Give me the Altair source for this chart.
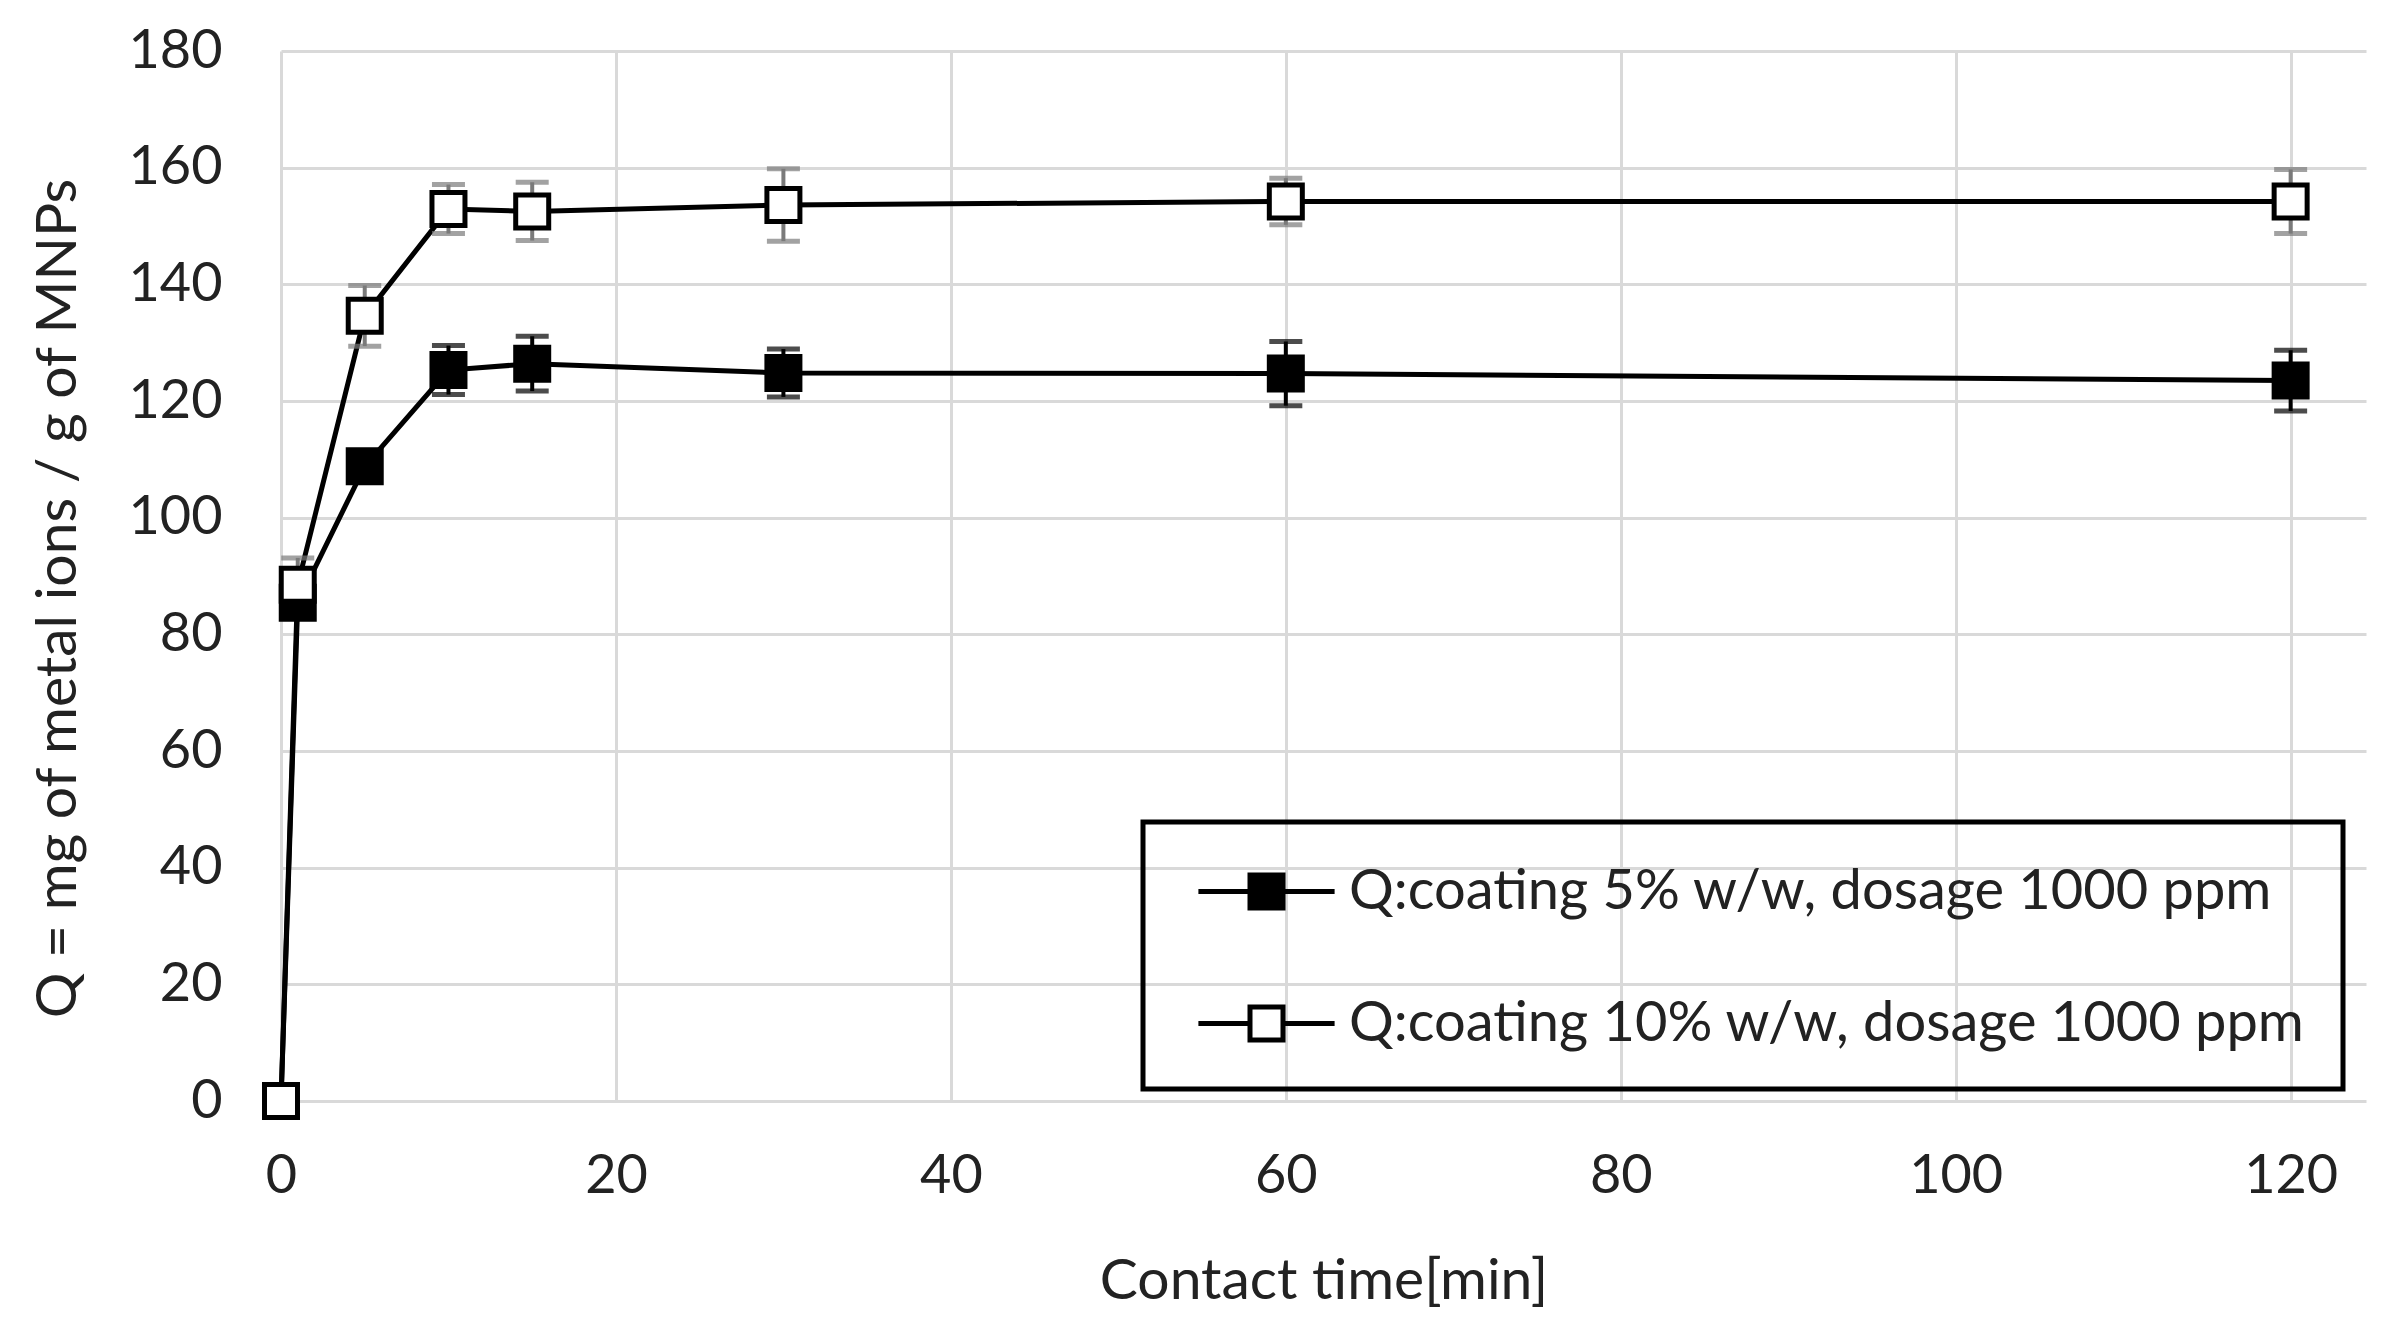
import altair as alt
import pandas as pd

# ---- data ----
times = [0, 1, 5, 10, 15, 30, 60, 120]
q_5 = [0, 85.4, 108.8, 125.3, 126.4, 124.8, 124.7, 123.5]
err_5 = [0, 2.0, 1.5, 4.2, 4.7, 4.1, 5.5, 5.2]
q_10 = [0, 88.5, 134.6, 152.9, 152.5, 153.6, 154.2, 154.2]
err_10 = [0, 4.6, 5.2, 4.2, 5.0, 6.2, 4.0, 5.5]
series_names = ["Q:coating 5% w/w, dosage 1000 ppm",
                "Q:coating 10% w/w, dosage 1000 ppm"]
x_ticks = [0, 20, 40, 60, 80, 100, 120]
y_ticks = [0, 20, 40, 60, 80, 100, 120, 140, 160, 180]

rows = []
for i, (name, qs, es) in enumerate([(series_names[0], q_5, err_5),
                                     (series_names[1], q_10, err_10)]):
    for t, q, e in zip(times, qs, es):
        rows.append({"t": t, "q": q, "lo": q - e, "hi": q + e, "err": e,
                     "series": name, "ebgroup": "g%d" % i})
df = pd.DataFrame(rows)

FONT = "Lato"
x_scale = alt.Scale(domain=[0, 124.5], nice=False, zero=True)
y_scale = alt.Scale(domain=[0, 180], nice=False)

base = alt.Chart(df)

x_enc = alt.X("t:Q", scale=x_scale,
              axis=alt.Axis(values=x_ticks, title="Contact time[min]", grid=True,
                            gridColor="#d9d9d9", gridWidth=3, domain=False, ticks=False,
                            labelFlush=False,
                            labelFontSize=54, labelPadding=48, labelColor="#222222",
                            labelFont=FONT, titleFont=FONT, titleFontSize=57,
                            titleFontWeight="normal", titleColor="#222222",
                            titleY=152, titleBaseline="top"))
y_enc = alt.Y("q:Q", scale=y_scale,
              axis=alt.Axis(values=y_ticks, title="Q = mg of metal ions / g of MNPs",
                            grid=True, gridColor="#d9d9d9", gridWidth=3, domain=False,
                            ticks=False, labelFontSize=54, labelPadding=59,
                            labelColor="#222222", labelFont=FONT, titleFont=FONT,
                            titleFontSize=57, titleFontWeight="normal",
                            titleColor="#222222", titleX=-223, titleY=547,
                            titleBaseline="middle"))

lines = base.mark_line(color="black", strokeWidth=5).encode(
    x=x_enc, y=y_enc, detail="series:N")

err_color = alt.Stroke("ebgroup:N",
                       scale=alt.Scale(domain=["g0", "g1"], range=["black", "#7a7a7a"]),
                       legend=None)
eb = base.transform_filter("datum.err > 0")

bars = eb.mark_rule(strokeWidth=4).encode(
    x="t:Q", y="lo:Q", y2="hi:Q", stroke=err_color)
caps_lo = eb.mark_tick(orient="horizontal", size=33, thickness=5, filled=False,
                       strokeWidth=0).encode(
    x="t:Q", y="lo:Q",
    fill=alt.Fill("ebgroup:N",
                  scale=alt.Scale(domain=["g0", "g1"], range=["black", "#7a7a7a"]),
                  legend=None))
caps_hi = eb.mark_tick(orient="horizontal", size=33, thickness=5, filled=False,
                       strokeWidth=0).encode(
    x="t:Q", y="hi:Q",
    fill=alt.Fill("ebgroup:N",
                  scale=alt.Scale(domain=["g0", "g1"], range=["black", "#7a7a7a"]),
                  legend=None))

legend_path = "M-2.27,0H-0.55M0.55,0H2.27M-0.55,-0.55H0.55V0.55H-0.55Z"

points = base.mark_square(size=1089, stroke="black", strokeWidth=5, opacity=1).encode(
    x="t:Q", y="q:Q",
    shape=alt.Shape("series:N",
                    scale=alt.Scale(domain=series_names, range=[legend_path, legend_path]),
                    legend=None),
    color=alt.Color("series:N",
                    scale=alt.Scale(domain=series_names, range=["black", "white"]),
                    legend=alt.Legend(title=None, orient="none", legendX=862, legendY=771,
                                      symbolType=legend_path, symbolSize=3600,
                                      symbolStrokeColor="black", symbolStrokeWidth=5,
                                      symbolOffset=54, labelOffset=50,
                                      labelFont=FONT, labelFontSize=56,
                                      labelColor="#222222", labelLimit=3000,
                                      rowPadding=71, padding=37,
                                      strokeColor="black")))

chart = alt.layer(lines, bars, caps_lo, caps_hi, points).resolve_scale(
    fill="independent", stroke="independent", color="independent", shape="independent"
).properties(
    width=2085, height=1050,
    autosize=alt.AutoSizeParams(type="none"),
    padding={"left": 273, "top": 43, "right": 10, "bottom": 210},
).configure_view(strokeWidth=0).configure_legend(strokeWidth=5)

chart.save("out.html", embed_options={"renderer": "svg", "actions": False})
